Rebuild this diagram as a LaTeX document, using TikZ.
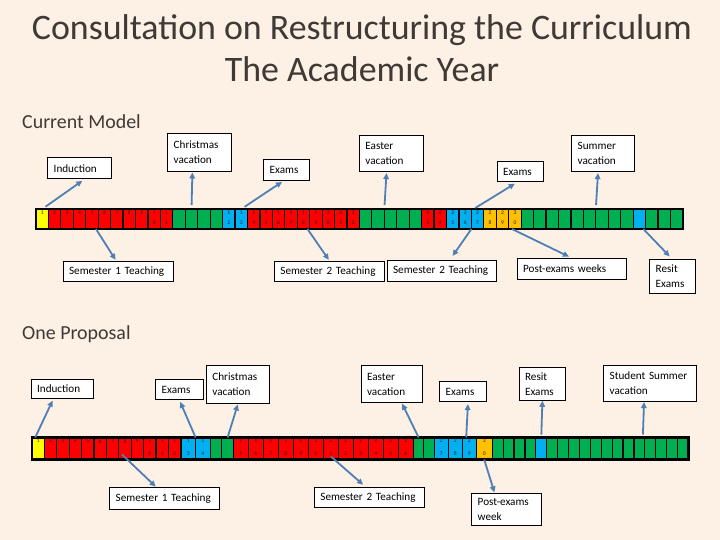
\documentclass[tikz,border=0pt]{standalone}
\usepackage{fontspec}
\setmainfont{Carlito}
\usetikzlibrary{arrows.meta, calc}
\definecolor{pagebg}{HTML}{FDF0E4}
\definecolor{titlegray}{HTML}{3F3A36}
\definecolor{wkred}{HTML}{FF0000}
\definecolor{wkgreen}{HTML}{00B050}
\definecolor{wkblue}{HTML}{00B0F0}
\definecolor{wkyellow}{HTML}{FFFF00}
\definecolor{wkorange}{HTML}{FFC000}
\definecolor{arrowblue}{HTML}{4F7FB5}

\begin{document}
\begin{tikzpicture}[
    x=1bp, y=-1bp,
    >={Triangle[length=6bp, width=5.5bp]},
    every node/.style={font=\fontsize{11.2}{15}\selectfont},
    box/.style={
        draw, fill=white, line width=0.8bp, anchor=north west,
        text width=#1, align=left, inner xsep=6bp, inner ysep=0pt,
        execute at begin node={\hyphenpenalty=10000\relax}
    },
    box/.default=32bp,
    cell/.style={draw=black, line width=1.2bp, inner sep=0pt, outer sep=0pt, anchor=west},
    week/.style={font=\fontsize{5.6}{#1}\selectfont, text=black!85, align=center,
        inner sep=1.6bp, anchor=north},
    heading/.style={font=\fontsize{20}{24}\selectfont, text=titlegray, anchor=base west, inner sep=0pt},
    title/.style={font=\fontsize{36}{40}\selectfont, text=titlegray, anchor=base, inner sep=0pt},
    link/.style={->, line width=1.8bp, color=arrowblue},
]

\useasboundingbox (0,0) rectangle (720,540);
\fill[pagebg] (0,0) rectangle (720,540);

% === Titles ===
\node[title] (title1) at (362,39.5) {Consultation on Restructuring the Curriculum};
\node[title] (title2) at (362,82) {The Academic Year};
\node[heading] (current) at (22,128.5) {Current Model};
\node[heading] (proposal) at (22,339.5) {One Proposal};

% === Current model weeks ===
\foreach \first/\last/\col in {1/1/wkyellow, 2/11/wkred, 12/15/wkgreen, 16/17/wkblue,
    18/26/wkred, 27/31/wkgreen, 32/33/wkred, 34/36/wkblue, 37/39/wkorange,
    40/48/wkgreen, 49/49/wkblue, 50/52/wkgreen}
  \foreach \i in {\first,...,\last}
    \node[cell, fill=\col, minimum width=12.44bp, minimum height=20bp] (t\i)
        at ({36+(\i-1)*12.44}, 219) {};
\draw[line width=2.2bp] (t1.north west) rectangle (t52.south east);

% === Proposal weeks ===
\foreach \xs/\w/\first/\last/\col in {32/12.4/1/1/wkyellow, 44.4/12.4/2/12/wkred,
    181/14.6/13/14/wkblue, 210.2/11.6/15/16/wkgreen, 233.4/15/17/28/wkred,
    413.4/10.4/29/30/wkgreen, 434.2/14/31/33/wkblue, 476.2/16/34/34/wkorange,
    492.2/10.9/35/38/wkgreen, 535.8/10.9/39/39/wkblue, 546.7/10.9/40/52/wkgreen}
  \foreach \i in {\first,...,\last}
    \node[cell, fill=\col, minimum width={\w bp}, minimum height=22bp] (b\i)
        at ({\xs+(\i-\first)*\w}, 448.5) {};
\draw[line width=2.2bp] (b1.north west) rectangle (b52.south east);

% === Week numbers ===
\foreach \lane/\first/\last/\wk/\skip in {t/1/11/1/10.5, t/16/26/12/10.5, t/32/39/23/10.5,
    b/1/14/1/13, b/17/28/15/13, b/31/34/27/13} {
  \foreach \i in {\first,...,\last} {
    \pgfmathtruncatemacro\n{\i-\first+\wk}
    \pgfmathtruncatemacro\tn{floor(\n/10)}
    \pgfmathtruncatemacro\un{\n-10*\tn}
    \ifnum\n<10
      \node[week=\skip] at (\lane\i.north) {\n};
    \else
      \node[week=\skip] at (\lane\i.north) {\tn\\\un};
    \fi
  }
}

% === Current model labels ===
\node[box=52bp, minimum height=21bp] (induct1) at (47.3,157.3) {Induction};
\node[box=51.4bp, minimum height=37.4bp] (xmas1) at (167.3,133.3) {Christmas\\vacation};
\node[box=34bp, minimum height=20.7bp] (exams1) at (263.3,159.3) {Exams};
\node[box=52.3bp, minimum height=36.6bp] (easter1) at (359,134.7) {Easter\\vacation};
\node[box=34.6bp, minimum height=20bp] (exams2) at (496.7,161.3) {Exams};
\node[box=50.7bp, minimum height=36.6bp] (summer1) at (571.3,134.7) {Summer\\vacation};
\node[box=98bp, minimum height=20.6bp] (semone1) at (62.7,260.7) {Semester 1 Teaching};
\node[box=98bp, minimum height=20.6bp] (semtwoa) at (274,260.7) {Semester 2 Teaching};
\node[box=97.3bp, minimum height=21.3bp] (semtwob) at (386.7,260) {Semester 2 Teaching};
\node[box=97.3bp, minimum height=21.3bp] (postex1) at (516.7,258) {Post-exams weeks};
\node[box=33.4bp, minimum height=33.4bp] (resit1) at (649.3,259.3) {Resit\\Exams};

% === Proposal labels ===
\node[box=50.6bp, minimum height=19.3bp] (induct2) at (30.7,378.7) {Induction};
\node[box=35.4bp, minimum height=20bp] (exams3) at (155.3,379.3) {Exams};
\node[box=51.3bp, minimum height=37.4bp] (xmas2) at (206,365.3) {Christmas\\vacation};
\node[box=49.3bp, minimum height=36.7bp] (easter2) at (360.7,365.3) {Easter\\vacation};
\node[box=34.7bp, minimum height=20bp] (exams4) at (439.3,381.3) {Exams};
\node[box=34.6bp, minimum height=33.3bp] (resit2) at (518.7,366.7) {Resit\\Exams};
\node[box=80.7bp, minimum height=36.6bp] (summer2) at (603.3,364.7) {Student Summer\\vacation};
\node[box=97.4bp, minimum height=21.4bp] (semone2) at (109.3,487.3) {Semester 1 Teaching};
\node[box=98bp, minimum height=20.6bp] (semtwo2) at (314,486.7) {Semester 2 Teaching};
\node[box=58bp, minimum height=32bp] (postex2) at (471.3,493.3) {Post-exams\\week};

% ===== ARROWS (current model) =====
\draw[link, shorten <=4bp, shorten >=3bp] (t1.north) -- ([xshift=5bp]induct1.south);
\draw[link, shorten <=4bp, shorten >=1bp] (t13.north) -- ([xshift=-7bp]xmas1.south);
\draw[link, shorten <=4bp, shorten >=2bp] (t17.north) -- ([xshift=-3bp]exams1.south);
\draw[link, shorten >=1bp] ([xshift=4bp]t5.south) -- ([xshift=-2bp]semone1.north);
\draw[link, shorten >=1bp] ([xshift=4bp]t22.south) -- (semtwoa.north);
\draw[link, shorten <=4bp, shorten >=1bp] (t28.north east) -- ([xshift=-5bp]easter1.south);
\draw[link, shorten <=2bp, shorten >=3bp] ([xshift=-4bp]t36.north) -- ([xshift=-3bp]exams2.south);
\draw[link, shorten <=4bp, shorten >=1bp] (t45.north east) -- ([xshift=-5bp]summer1.south);
\draw[link, shorten >=5bp] (t35.south east) -- ([xshift=8bp]semtwob.north);
\draw[link, shorten >=3bp] ([xshift=-3bp]t39.south) -- (postex1.north);
\draw[link, shorten >=4bp] ([xshift=4bp]t49.south) -- (resit1.north);

% ===== ARROWS (proposal) =====
\draw[link, shorten >=2bp] ([xshift=-3bp]b1.north) -- ([xshift=-9bp]induct2.south);
\draw[link, shorten >=2bp] (b13.north east) -- (exams3.south);
\draw[link, shorten >=1bp] (b16.north) -- (xmas2.south);
\draw[link, shorten >=1bp] ([xshift=-3bp, yshift=5bp]b8.south) -- ([xshift=-8bp]semone2.north);
\draw[link, shorten >=3bp] ([yshift=3bp]b23.south) -- ([xshift=-4bp]semtwo2.north);
\draw[link, shorten >=1bp] (b29.north) -- ([xshift=10bp]easter2.south);
\draw[link, shorten >=2bp] ([xshift=-3bp]b33.north) -- ([xshift=5bp]exams4.south);
\draw[link, shorten <=3bp] (b39.north) -- (resit2.south);
\draw[link, shorten <=3bp] ([xshift=-2bp]b48.north east) -- ([xshift=-6bp]summer2.south);
\draw[link, shorten >=1bp] (b34.south) -- ([xshift=-12bp]postex2.north);

\end{tikzpicture}
\end{document}
